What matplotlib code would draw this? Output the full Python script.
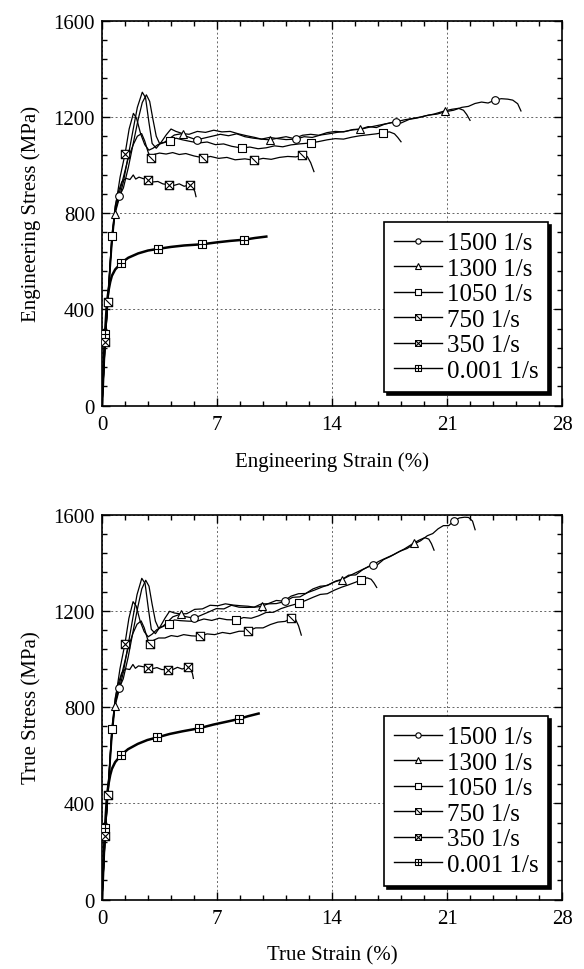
import matplotlib
matplotlib.use("Agg")
import matplotlib.pyplot as plt
from matplotlib.path import Path
from matplotlib.ticker import MultipleLocator

plt.rcParams["font.family"] = ["Liberation Serif", "DejaVu Serif"]

labels = ["1500 1/s", "1300 1/s", "1050 1/s", "750 1/s", "350 1/s", "0.001 1/s"]

# ---- engineering stress-strain (strain %, stress MPa) ----
eng_1500_x = [0, 0.2, 0.4, 0.6, 0.8, 1.05, 1.3, 1.6, 1.9, 2.2, 2.45, 2.7, 2.9, 3.1, 3.3, 3.5, 3.8, 4.1, 4.4, 4.8,
              5.2, 5.76, 6.2, 6.7, 7.2, 7.7, 8.2, 8.7, 9.2, 9.7, 10.2, 10.7, 11.2, 11.8, 12.3, 12.8, 13.3, 13.8,
              14.3, 14.8, 15.3, 15.8, 16.3, 16.8, 17.3, 17.9, 18.4, 18.9, 19.4, 19.9, 20.4, 20.9, 21.4, 21.9,
              22.3, 22.7, 23.1, 23.5, 23.9, 24.3, 24.7, 25.0, 25.3, 25.5]
eng_1500_y = [0, 280, 470, 660, 810, 870, 905, 990, 1090, 1190, 1260, 1292, 1265, 1190, 1120, 1090, 1095, 1110,
              1125, 1130, 1118, 1105, 1112, 1120, 1128, 1122, 1130, 1118, 1112, 1108, 1115, 1110, 1106, 1108,
              1118, 1115, 1125, 1130, 1136, 1140, 1148, 1150, 1158, 1165, 1172, 1180, 1188, 1194, 1200, 1208,
              1212, 1222, 1228, 1240, 1244, 1256, 1262, 1258, 1270, 1276, 1274, 1270, 1255, 1225]
eng_1300_x = [0, 0.2, 0.4, 0.6, 0.79, 1.0, 1.3, 1.6, 1.9, 2.15, 2.45, 2.65, 2.85, 3.05, 3.3, 3.6, 3.9, 4.2, 4.5,
              4.91, 5.3, 5.8, 6.3, 6.8, 7.3, 7.8, 8.3, 8.8, 9.3, 9.7, 10.2, 10.7, 11.2, 11.7, 12.2, 12.7, 13.2,
              13.7, 14.2, 14.7, 15.2, 15.7, 16.2, 16.7, 17.2, 17.7, 18.2, 18.7, 19.2, 19.7, 20.2, 20.6, 20.9,
              21.3, 21.7, 22.0, 22.2, 22.4]
eng_1300_y = [0, 290, 500, 700, 798, 850, 930, 1040, 1150, 1240, 1303, 1280, 1180, 1090, 1070, 1095, 1125, 1150,
              1140, 1131, 1128, 1140, 1136, 1145, 1138, 1140, 1130, 1122, 1115, 1108, 1105, 1112, 1118, 1110,
              1124, 1128, 1124, 1135, 1140, 1138, 1146, 1149, 1160, 1156, 1170, 1178, 1175, 1190, 1196, 1205,
              1212, 1220, 1226, 1232, 1236, 1228, 1210, 1186]
eng_1050_x = [0, 0.2, 0.4, 0.59, 0.8, 1.1, 1.4, 1.65, 1.91, 2.1, 2.35, 2.6, 2.85, 3.1, 3.4, 3.7, 4.14, 4.5, 4.9,
              5.4, 5.9, 6.4, 6.9, 7.4, 7.9, 8.5, 9.0, 9.5, 10.0, 10.5, 11.0, 11.5, 12.0, 12.7, 13.2, 13.7, 14.2,
              14.7, 15.2, 15.7, 16.2, 16.7, 17.1, 17.5, 17.8, 18.0, 18.2]
eng_1050_y = [0, 270, 480, 704, 820, 950, 1046, 1150, 1215, 1195, 1130, 1085, 1062, 1070, 1085, 1092, 1100, 1112,
              1105, 1098, 1092, 1096, 1085, 1088, 1078, 1071, 1075, 1068, 1072, 1080, 1076, 1084, 1088, 1092,
              1098, 1105, 1110, 1108, 1116, 1122, 1126, 1130, 1135, 1138, 1130, 1115, 1097]
eng_750_x = [0, 0.18, 0.35, 0.55, 0.75, 1.0, 1.3, 1.6, 1.9, 2.15, 2.41, 2.6, 2.8, 2.96, 3.2, 3.5, 3.9, 4.3, 4.7,
             5.1, 5.6, 6.17, 6.6, 7.1, 7.6, 8.1, 8.7, 9.27, 9.8, 10.3, 10.8, 11.3, 11.8, 12.2, 12.5, 12.7, 12.9]
eng_750_y = [0, 250, 431, 640, 790, 870, 950, 1030, 1085, 1120, 1131, 1100, 1055, 1030, 1045, 1050, 1046, 1052,
             1044, 1048, 1038, 1030, 1036, 1028, 1032, 1022, 1026, 1020, 1028, 1024, 1032, 1036, 1034, 1042,
             1035, 1010, 973]
eng_350_x = [0, 0.18, 0.4, 0.6, 0.8, 1.0, 1.2, 1.45, 1.7, 1.9, 2.05, 2.25, 2.5, 2.82, 3.1, 3.4, 3.7, 4.08, 4.4,
             4.7, 5.0, 5.36, 5.55, 5.65, 5.72]
eng_350_y = [0, 263, 500, 700, 830, 890, 930, 945, 940, 959, 942, 950, 944, 938, 930, 932, 922, 918, 916, 922,
             912, 918, 905, 890, 869]
eng_qs_x = [0, 0.18, 0.3, 0.4, 0.5, 0.6, 0.8, 1.16, 1.6, 2.2, 2.8, 3.43, 4.2, 5.0, 6.1, 7.0, 7.8, 8.66, 9.3, 10.0]
eng_qs_y = [0, 298, 430, 480, 515, 540, 566, 593, 615, 633, 645, 652, 660, 666, 671, 679, 685, 690, 697, 703]

# marker locations
eng_mk_1500 = ([1.05, 5.76, 11.8, 17.9, 23.9], [870, 1105, 1108, 1180, 1270])
eng_mk_1300 = ([0.79, 4.91, 10.2, 15.7, 20.9], [798, 1131, 1105, 1149, 1226])
eng_mk_1050 = ([0.59, 4.14, 8.5, 12.7, 17.1], [704, 1100, 1071, 1092, 1135])
eng_mk_750 = ([0.35, 2.96, 6.17, 9.27, 12.2], [431, 1030, 1030, 1020, 1042])
eng_mk_350 = ([0.18, 1.4, 2.82, 4.08, 5.36], [263, 1046, 938, 918, 918])
eng_mk_qs = ([0.18, 1.16, 3.43, 6.1, 8.66], [298, 593, 652, 671, 690])

# ---- true stress-strain ----
true_1500_x = [0, 0.2, 0.4, 0.6, 0.8, 1.045, 1.29, 1.587, 1.88, 2.18, 2.42, 2.66, 2.86, 3.05, 3.25, 3.44, 3.73,
               4.02, 4.31, 4.69, 5.07, 5.6, 6.01, 6.49, 6.95, 7.42, 7.88, 8.34, 8.8, 9.26, 9.71, 10.16, 10.61,
               11.15, 11.6, 12.05, 12.49, 12.93, 13.37, 13.8, 14.24, 14.67, 15.1, 15.53, 15.96, 16.47, 16.89,
               17.31, 17.73, 18.15, 18.57, 18.98, 19.39, 19.8, 20.13, 20.46, 20.78, 21.1, 21.43, 21.75, 22.07,
               22.31, 22.55, 22.71]
true_1500_y = [0, 281, 472, 664, 816, 879, 917, 1006, 1111, 1216, 1291, 1327, 1302, 1227, 1157, 1128, 1137, 1156,
               1175, 1184, 1176, 1169, 1181, 1195, 1209, 1208, 1223, 1215, 1214, 1215, 1229, 1229, 1230, 1239,
               1256, 1258, 1275, 1286, 1298, 1309, 1324, 1332, 1347, 1361, 1375, 1391, 1407, 1420, 1433, 1448,
               1459, 1477, 1491, 1512, 1521, 1541, 1554, 1554, 1574, 1586, 1589, 1588, 1573, 1537]
true_1300_x = [0, 0.2, 0.4, 0.6, 0.79, 0.995, 1.29, 1.587, 1.88, 2.13, 2.42, 2.62, 2.81, 3.0, 3.25, 3.54, 3.83,
               4.11, 4.4, 4.79, 5.16, 5.64, 6.11, 6.58, 7.05, 7.51, 7.97, 8.44, 8.89, 9.26, 9.71, 10.16, 10.61,
               11.06, 11.51, 11.96, 12.4, 12.84, 13.28, 13.71, 14.15, 14.58, 15.01, 15.44, 15.87, 16.3, 16.72,
               17.14, 17.56, 17.98, 18.4, 18.73, 18.98, 19.31, 19.64, 19.89, 20.05, 20.21]
true_1300_y = [0, 291, 502, 704, 804, 858, 942, 1057, 1172, 1267, 1335, 1314, 1214, 1123, 1105, 1134, 1169, 1198,
               1191, 1187, 1188, 1206, 1208, 1223, 1221, 1229, 1224, 1221, 1219, 1215, 1218, 1231, 1243, 1240,
               1261, 1271, 1272, 1291, 1302, 1305, 1320, 1329, 1348, 1349, 1371, 1387, 1389, 1413, 1426, 1442,
               1457, 1471, 1482, 1494, 1504, 1498, 1479, 1452]
true_1050_x = [0, 0.2, 0.4, 0.59, 0.8, 1.094, 1.39, 1.636, 1.89, 2.08, 2.32, 2.57, 2.81, 3.05, 3.34, 3.63, 4.06,
               4.4, 4.78, 5.26, 5.73, 6.2, 6.68, 7.14, 7.6, 8.16, 8.62, 9.08, 9.53, 9.98, 10.44, 10.89, 11.33,
               11.96, 12.4, 12.84, 13.28, 13.71, 14.15, 14.58, 15.01, 15.44, 15.79, 16.13, 16.38, 16.55, 16.72]
true_1050_y = [0, 271, 482, 708, 827, 960, 1061, 1169, 1238, 1220, 1157, 1113, 1092, 1103, 1122, 1132, 1146, 1162,
               1159, 1157, 1156, 1166, 1160, 1169, 1163, 1162, 1172, 1169, 1179, 1193, 1194, 1209, 1219, 1231,
               1243, 1256, 1268, 1271, 1286, 1298, 1308, 1319, 1329, 1337, 1331, 1316, 1297]
true_750_x = [0, 0.18, 0.35, 0.55, 0.75, 0.995, 1.29, 1.587, 1.88, 2.13, 2.38, 2.57, 2.76, 2.92, 3.15, 3.44, 3.83,
              4.21, 4.59, 4.97, 5.45, 5.98, 6.39, 6.86, 7.33, 7.79, 8.34, 8.87, 9.35, 9.8, 10.25, 10.7, 11.15,
              11.51, 11.78, 11.96, 12.13]
true_750_y = [0, 250, 433, 644, 796, 879, 962, 1046, 1106, 1144, 1158, 1129, 1085, 1060, 1078, 1087, 1087, 1097,
              1093, 1101, 1096, 1094, 1104, 1101, 1110, 1105, 1115, 1115, 1129, 1129, 1143, 1153, 1156, 1169,
              1164, 1138, 1099]
true_350_x = [0, 0.18, 0.4, 0.6, 0.8, 0.995, 1.193, 1.44, 1.686, 1.88, 2.03, 2.22, 2.47, 2.78, 3.05, 3.34, 3.63,
              4.0, 4.31, 4.59, 4.88, 5.22, 5.4, 5.5, 5.56]
true_350_y = [0, 263, 502, 704, 837, 899, 941, 959, 956, 977, 961, 971, 968, 964, 959, 964, 956, 955, 956, 965,
              958, 967, 955, 940, 919]
true_qs_x = [0, 0.18, 0.3, 0.4, 0.5, 0.6, 0.8, 1.153, 1.587, 2.18, 2.76, 3.37, 4.11, 4.88, 5.92, 6.77, 7.51, 8.31,
             8.89, 9.53]
true_qs_y = [0, 299, 431, 482, 518, 543, 571, 600, 625, 647, 663, 674, 688, 699, 712, 727, 738, 750, 762, 773]

true_mk_1500 = ([1.045, 5.6, 11.15, 16.47, 21.43], [879, 1169, 1239, 1391, 1574])
true_mk_1300 = ([0.79, 4.79, 9.71, 14.58, 18.98], [804, 1187, 1218, 1329, 1482])
true_mk_1050 = ([0.59, 4.06, 8.16, 11.96, 15.79], [708, 1146, 1162, 1231, 1329])
true_mk_750 = ([0.35, 2.92, 5.98, 8.87, 11.51], [433, 1060, 1094, 1115, 1169])
true_mk_350 = ([0.18, 1.39, 2.78, 4.0, 5.22], [263, 1061, 964, 955, 967])
true_mk_qs = ([0.18, 1.153, 3.37, 5.92, 8.31], [299, 600, 674, 712, 750])


def box_marker(extra):
    verts = [(-1, -1), (1, -1), (1, 1), (-1, 1), (-1, -1)]
    codes = [Path.MOVETO, Path.LINETO, Path.LINETO, Path.LINETO, Path.CLOSEPOLY]
    for a, b in extra:
        verts += [a, b]
        codes += [Path.MOVETO, Path.LINETO]
    return Path(verts, codes)


m_square = box_marker([])
m_slash = box_marker([((-1, 1), (1, -1))])
m_cross = box_marker([((-1, 1), (1, -1)), ((-1, -1), (1, 1))])
m_plus = box_marker([((0, -1), (0, 1)), ((-1, 0), (1, 0))])

markers = ["o", "^", m_square, m_slash, m_cross, m_plus]
msizes = [5.5, 6, 6, 6, 6, 6]
lwidths = [0.9, 0.9, 0.9, 0.9, 0.9, 1.8]


def draw_panel(ax, curves, marks, xlabel, ylabel):
    for i, (cx, cy) in enumerate(curves):
        ax.plot(cx, cy, color="black", lw=lwidths[i], zorder=3)
    for i, (mx, my) in enumerate(marks):
        ax.plot(mx, my, ls="none", marker=markers[i], ms=msizes[i], mfc="white",
                mec="black", mew=0.8, zorder=4)
    handles = []
    for i, lab in enumerate(labels):
        h, = ax.plot([], [], color="black", lw=1.0, marker=markers[i], ms=msizes[i] * 0.7,
                     mfc="white", mec="black", mew=0.8, label=lab)
        handles.append(h)
    leg = ax.legend(handles=handles, loc="lower right", fontsize=18, frameon=True,
                    fancybox=False, shadow={"color": "black", "alpha": 1.0},
                    framealpha=1, edgecolor="black", handlelength=1.9, handletextpad=0.2,
                    borderpad=0.4, labelspacing=0.12, borderaxespad=0.55)
    leg.get_frame().set_linewidth(1.2)

    ax.set_xlim(0, 28)
    ax.set_ylim(0, 1600)
    ax.set_xticks([0, 7, 14, 21, 28])
    ax.set_yticks([0, 400, 800, 1200, 1600])
    ax.xaxis.set_minor_locator(MultipleLocator(1.4))
    ax.yaxis.set_minor_locator(MultipleLocator(80))
    ax.tick_params(which="both", direction="in", top=True, right=True, labelsize=15, width=1)
    ax.tick_params(which="major", length=6)
    ax.tick_params(which="minor", length=3.5)
    ax.tick_params(axis="x", which="major", pad=7)
    ax.tick_params(axis="y", which="major", pad=5)
    ax.grid(True, which="major", color="0.4", lw=0.7, ls=(0, (2, 2.5)))
    for s in ax.spines.values():
        s.set_linewidth(1.2)
    ax.set_xlabel(xlabel, fontsize=15, labelpad=12)
    ax.set_ylabel(ylabel, fontsize=15, labelpad=9)


fig = plt.figure(figsize=(5.84, 9.70), dpi=100)
ax1 = fig.add_axes([0.1747, 0.5807, 0.7877, 0.3969])
ax2 = fig.add_axes([0.1747, 0.0716, 0.7877, 0.3969])

draw_panel(ax1,
           [(eng_1500_x, eng_1500_y), (eng_1300_x, eng_1300_y), (eng_1050_x, eng_1050_y),
            (eng_750_x, eng_750_y), (eng_350_x, eng_350_y), (eng_qs_x, eng_qs_y)],
           [eng_mk_1500, eng_mk_1300, eng_mk_1050, eng_mk_750, eng_mk_350, eng_mk_qs],
           "Engineering Strain (%)", "Engineering Stress (MPa)")
draw_panel(ax2,
           [(true_1500_x, true_1500_y), (true_1300_x, true_1300_y), (true_1050_x, true_1050_y),
            (true_750_x, true_750_y), (true_350_x, true_350_y), (true_qs_x, true_qs_y)],
           [true_mk_1500, true_mk_1300, true_mk_1050, true_mk_750, true_mk_350, true_mk_qs],
           "True Strain (%)", "True Stress (MPa)")

fig.savefig("out.png", dpi=100)
